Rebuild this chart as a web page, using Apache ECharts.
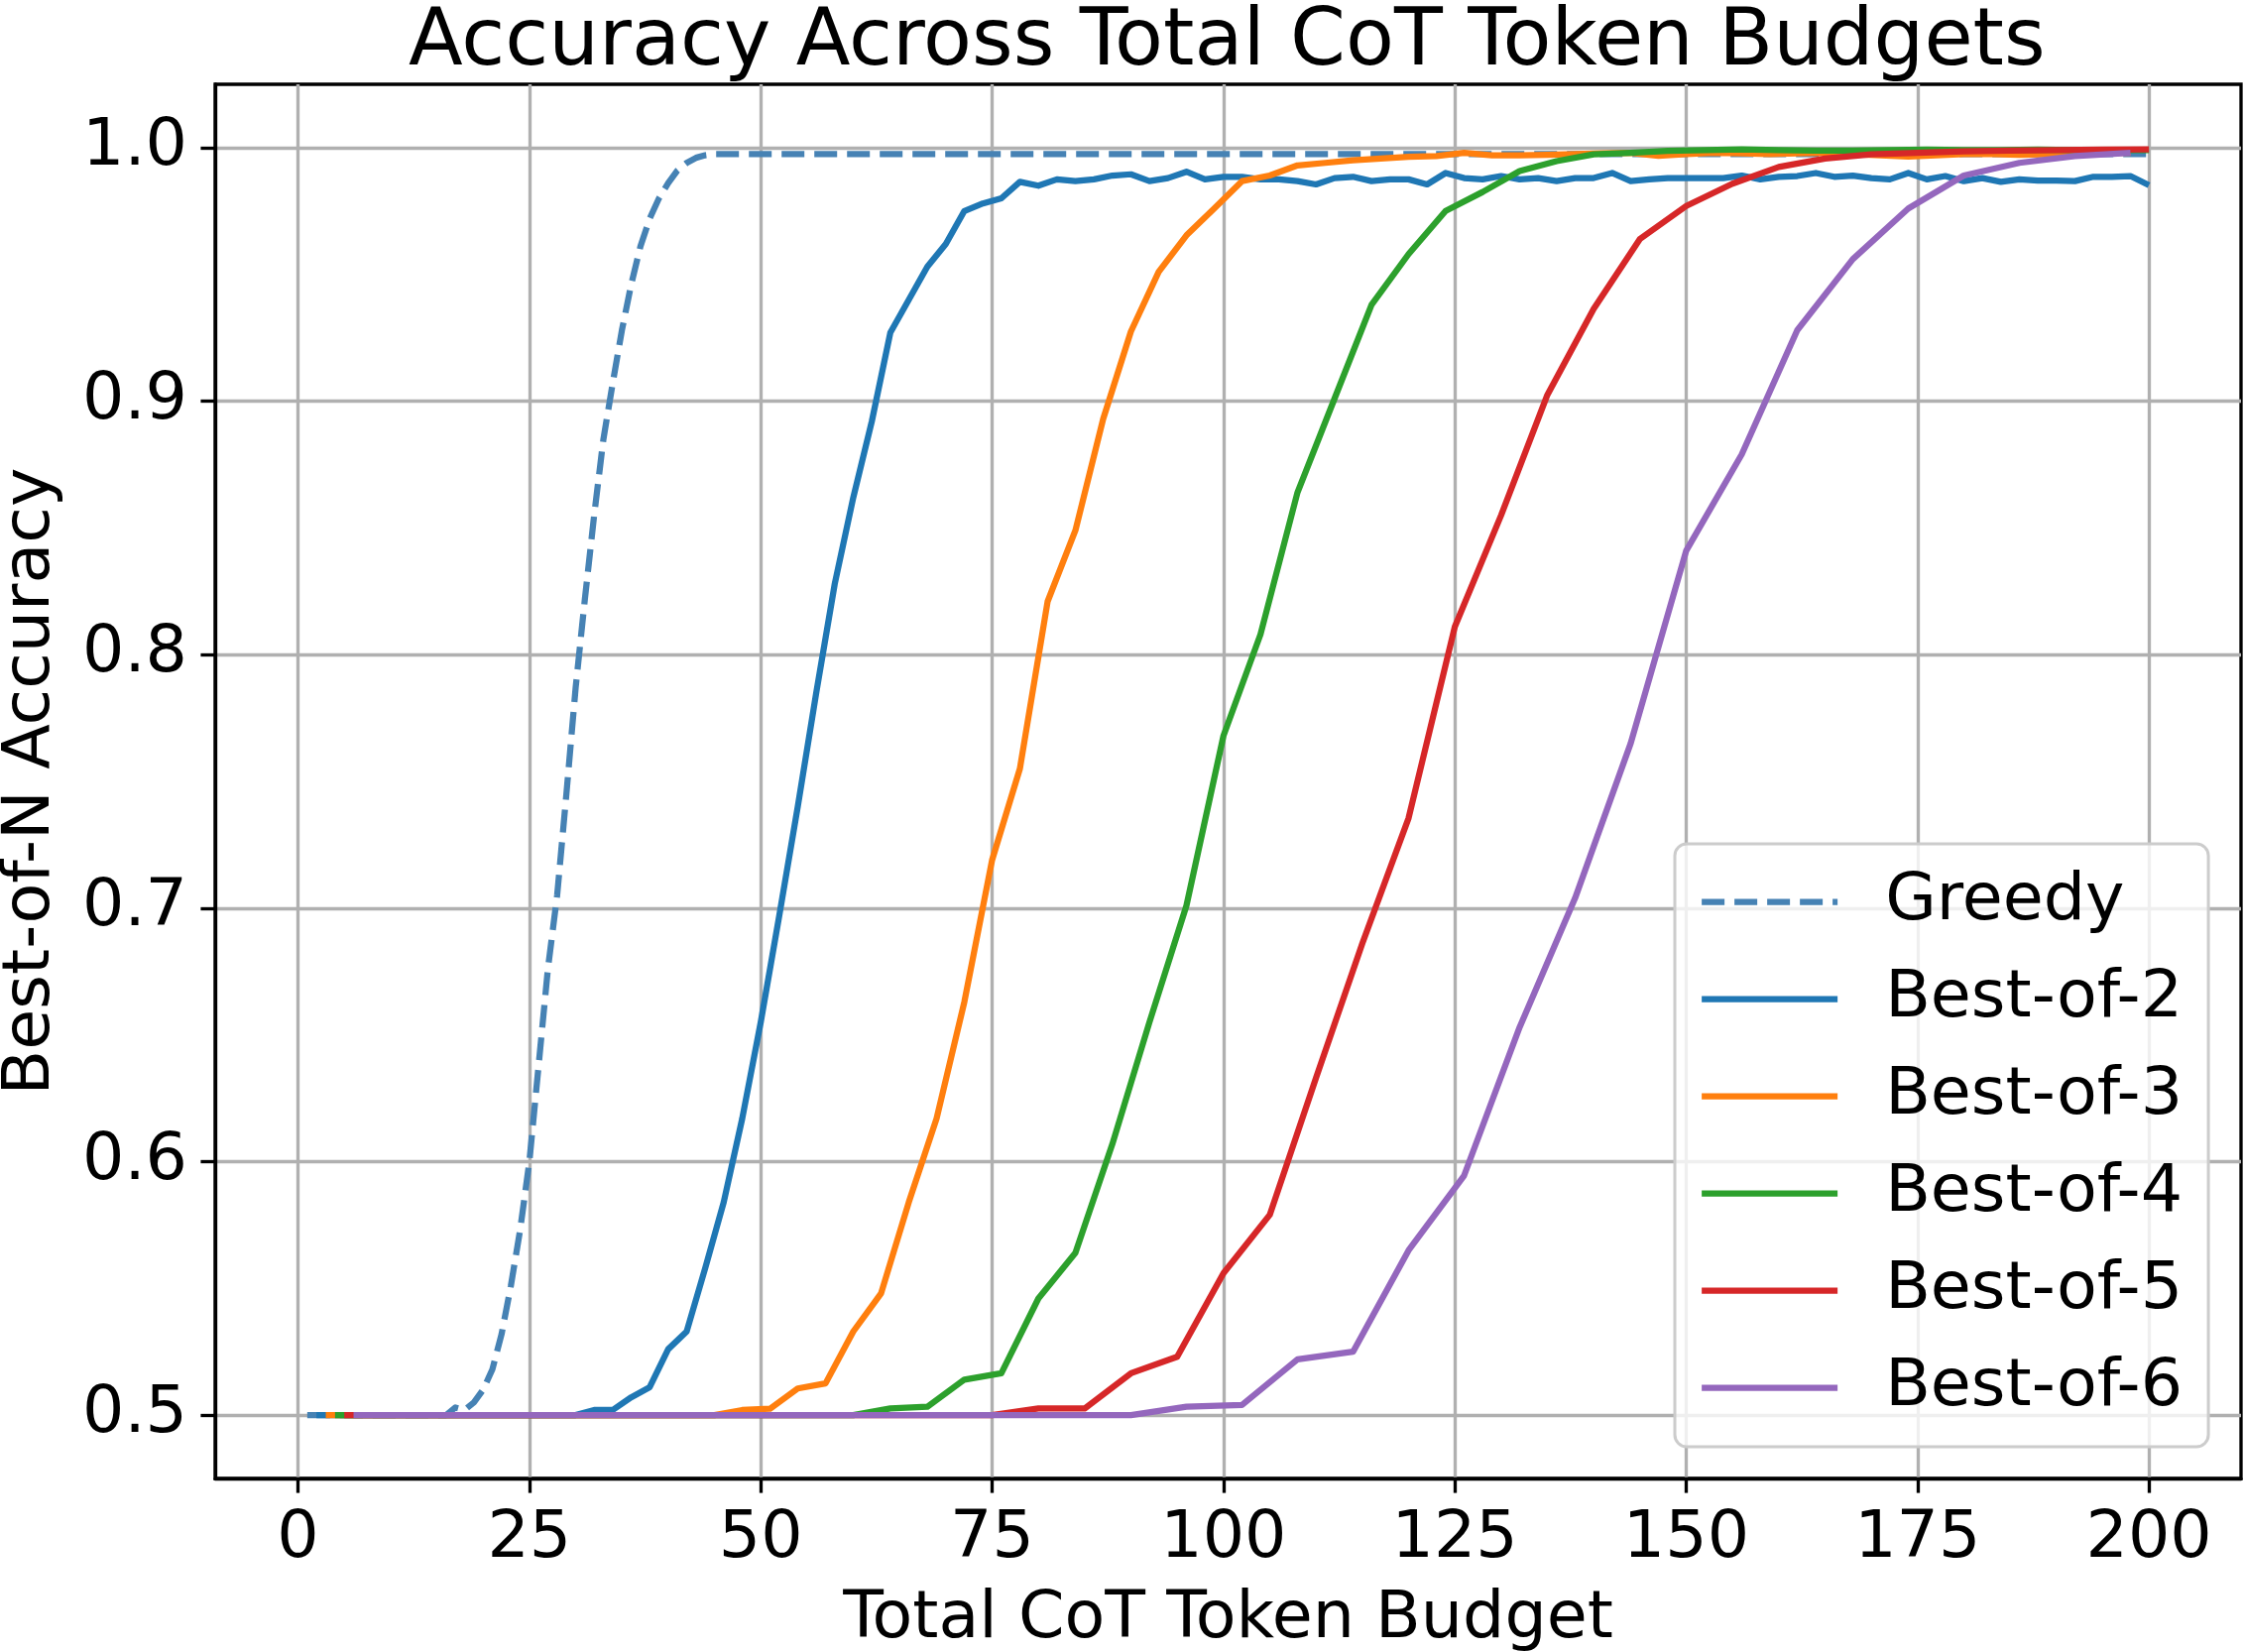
<!DOCTYPE html>
<html>
<head>
<meta charset="utf-8">
<script src="https://cdn.jsdelivr.net/npm/echarts@6/dist/echarts.min.js"></script>
<style>
html, body { margin: 0; padding: 0; background: #ffffff; }
#acc-div { width: 2263px; height: 1666px; }
</style>
</head>
<body>
<div id="acc-div"></div>
<script>

var seriesNames = ['Greedy', 'Best-of-2', 'Best-of-3', 'Best-of-4', 'Best-of-5', 'Best-of-6'];
var seriesColors = ['#4682b4', '#1f77b4', '#ff7f0e', '#2ca02c', '#d62728', '#9467bd'];
var xTicks = [0, 25, 50, 75, 100, 125, 150, 175, 200];
var yTicks = [0.5, 0.6, 0.7, 0.8, 0.9, 1.0];

// accuracy per total budget, greedy every token (1..200)
var greedyAcc = [
    0.5, 0.5, 0.5, 0.5, 0.5, 0.5, 0.5, 0.5, 0.5, 0.5, 0.5, 0.5, 0.5, 0.5, 0.5, 0.5, 0.503, 0.502, 0.505, 0.51,
    0.518, 0.532, 0.551, 0.573, 0.600, 0.638, 0.676, 0.705, 0.745, 0.787, 0.822, 0.855, 0.885, 0.907, 0.928, 0.946, 0.961, 0.972, 0.980, 0.986,
    0.991, 0.994, 0.996, 0.997, 0.9975, 0.9975, 0.9975, 0.9975, 0.9975, 0.9975, 0.9975, 0.9975, 0.9975, 0.9975, 0.9975, 0.9975, 0.9975, 0.9975, 0.9975, 0.9975,
    0.9975, 0.9975, 0.9975, 0.9975, 0.9975, 0.9975, 0.9975, 0.9975, 0.9975, 0.9975, 0.9975, 0.9975, 0.9975, 0.9975, 0.9975, 0.9975, 0.9975, 0.9975, 0.9975, 0.9975,
    0.9975, 0.9975, 0.9975, 0.9975, 0.9975, 0.9975, 0.9975, 0.9975, 0.9975, 0.9975, 0.9975, 0.9975, 0.9975, 0.9975, 0.9975, 0.9975, 0.9975, 0.9975, 0.9975, 0.9975,
    0.9975, 0.9975, 0.9975, 0.9975, 0.9975, 0.9975, 0.9975, 0.9975, 0.9975, 0.9975, 0.9975, 0.9975, 0.9975, 0.9975, 0.9975, 0.9975, 0.9975, 0.9975, 0.9975, 0.9975,
    0.9975, 0.9975, 0.9975, 0.9975, 0.9975, 0.9975, 0.9975, 0.9975, 0.9975, 0.9975, 0.9975, 0.9975, 0.9975, 0.9975, 0.9975, 0.9975, 0.9975, 0.9975, 0.9975, 0.9975,
    0.9975, 0.9975, 0.9975, 0.9975, 0.9975, 0.9975, 0.9975, 0.9975, 0.9975, 0.9975, 0.9975, 0.9975, 0.9975, 0.9975, 0.9975, 0.9975, 0.9975, 0.9975, 0.9975, 0.9975,
    0.9975, 0.9975, 0.9975, 0.9975, 0.9975, 0.9975, 0.9975, 0.9975, 0.9975, 0.9975, 0.9975, 0.9975, 0.9975, 0.9975, 0.9975, 0.9975, 0.9975, 0.9975, 0.9975, 0.9975,
    0.9975, 0.9975, 0.9975, 0.9975, 0.9975, 0.9975, 0.9975, 0.9975, 0.9975, 0.9975, 0.9975, 0.9975, 0.9975, 0.9975, 0.9975, 0.9975, 0.9975, 0.9975, 0.9975, 0.9975
];

// best-of-N: one point every N tokens (N, 2N, ...)
var bestOf2Acc = [
    0.5, 0.5, 0.5, 0.5, 0.5, 0.5, 0.5, 0.5, 0.5, 0.5, 0.5, 0.5, 0.5, 0.5, 0.5, 0.502, 0.502, 0.507, 0.511, 0.526,
    0.533, 0.558, 0.584, 0.617, 0.655, 0.697, 0.740, 0.785, 0.828, 0.862, 0.892, 0.927, 0.940, 0.953, 0.962, 0.975, 0.978, 0.980, 0.9865, 0.985,
    0.9875, 0.9868, 0.9875, 0.989, 0.9895, 0.9868, 0.988, 0.9905, 0.9875, 0.9885, 0.9885, 0.9875, 0.9875, 0.9868, 0.9855, 0.988, 0.9885, 0.9868, 0.9875, 0.9875,
    0.9855, 0.990, 0.988, 0.9875, 0.9888, 0.9875, 0.988, 0.9868, 0.988, 0.988, 0.990, 0.9868, 0.9875, 0.988, 0.988, 0.988, 0.988, 0.989, 0.9875, 0.9885,
    0.9888, 0.990, 0.9885, 0.989, 0.988, 0.9875, 0.990, 0.9875, 0.9888, 0.9868, 0.988, 0.9865, 0.9875, 0.987, 0.987, 0.9868, 0.9885, 0.9885, 0.9888, 0.9852
];

var bestOf3Acc = [
    0.5, 0.5, 0.5, 0.5, 0.5, 0.5, 0.5, 0.5, 0.5, 0.5, 0.5, 0.5, 0.5, 0.5, 0.5, 0.502, 0.5025, 0.5105, 0.5125, 0.533,
    0.548, 0.584, 0.617, 0.663, 0.719, 0.755, 0.821, 0.849, 0.893, 0.9275, 0.951, 0.9654, 0.976, 0.9868, 0.989, 0.993, 0.994, 0.995, 0.9957, 0.9964,
    0.9967, 0.998, 0.997, 0.997, 0.9972, 0.9975, 0.9978, 0.998, 0.9968, 0.9975, 0.998, 0.9978, 0.9975, 0.9978, 0.998, 0.9975, 0.997, 0.9965, 0.997, 0.9975,
    0.9975, 0.9972, 0.9975, 0.9978, 0.998, 0.998
];

var bestOf4Acc = [
    0.5, 0.5, 0.5, 0.5, 0.5, 0.5, 0.5, 0.5, 0.5, 0.5, 0.5, 0.5, 0.5, 0.5, 0.5, 0.5026, 0.5033, 0.514, 0.5165, 0.546,
    0.564, 0.607, 0.655, 0.701, 0.768, 0.808, 0.864, 0.901, 0.938, 0.958, 0.975, 0.9825, 0.9908, 0.9947, 0.9974, 0.998, 0.9987, 0.999, 0.9993, 0.999,
    0.9988, 0.9988, 0.999, 0.9992, 0.999, 0.999, 0.9992, 0.999, 0.999, 0.999
];

var bestOf5Acc = [
    0.5, 0.5, 0.5, 0.5, 0.5, 0.5, 0.5, 0.5, 0.5, 0.5, 0.5, 0.5, 0.5, 0.5, 0.5, 0.5026, 0.5026, 0.5165, 0.523, 0.556,
    0.579, 0.633, 0.686, 0.7355, 0.811, 0.855, 0.9025, 0.9364, 0.964, 0.977, 0.9858, 0.9924, 0.9957, 0.9974, 0.998, 0.9985, 0.9988, 0.999, 0.9992, 0.9993
];

var bestOf6Acc = [
    0.5, 0.5, 0.5, 0.5, 0.5, 0.5, 0.5, 0.5, 0.5, 0.5, 0.5, 0.5, 0.5, 0.5, 0.5, 0.5033, 0.504, 0.522, 0.525, 0.565,
    0.5945, 0.653, 0.704, 0.765, 0.841, 0.879, 0.928, 0.956, 0.976, 0.989, 0.994, 0.9967, 0.998
];

var seriesAcc = [greedyAcc, bestOf2Acc, bestOf3Acc, bestOf4Acc, bestOf5Acc, bestOf6Acc];
var seriesStep = [1, 2, 3, 4, 5, 6];

var fontName = 'DejaVu Sans';
var ptPx = 300 / 72;
var labelSize = 16 * ptPx;


// pair each accuracy with its total token budget
var toPoints = function(values, step) {
    var out = new Array(values.length);
    for (var i = 0; i < values.length; i++) {
        out[i] = [step * (i + 1), values[i]];
    }
    return out;
}


var dashFor = function(i) {
    return i === 0 ? [23, 10] : 'solid';
}


var makeSeries = function() {
    var list = [];
    for (var i = 0; i < seriesNames.length; i++) {
        list.push({
            name: seriesNames[i],
            type: 'line',
            data: toPoints(seriesAcc[i], seriesStep[i]),
            showSymbol: false,
            symbol: 'none',
            animation: false,
            color: seriesColors[i],
            lineStyle: {
                color: seriesColors[i],
                width: 1.5 * ptPx,
                type: dashFor(i),
                cap: 'butt',
                join: 'round'
            },
            z: 2 + i
        });
    }
    return list;
}


// legend entries: line only, no marker
var makeLegendData = function() {
    var list = [];
    for (var i = 0; i < seriesNames.length; i++) {
        list.push({
            name: seriesNames[i],
            itemStyle: { opacity: 0 },
            lineStyle: { color: seriesColors[i], width: 1.5 * ptPx, type: dashFor(i), opacity: 1 }
        });
    }
    return list;
}


var tickStyle = { length: 3.5 * ptPx, lineStyle: { color: '#000000', width: 0.8 * ptPx } };
var gridStyle = { color: '#b0b0b0', width: 0.8 * ptPx };

var opts = {
    animation: false,
    backgroundColor: '#ffffff',
    title: {
        text: 'Accuracy Across Total CoT Token Budgets',
        left: 412,
        top: 4,
        padding: 0,
        textStyle: { fontFamily: fontName, fontSize: 80, fontWeight: 'normal', color: '#000000' }
    },
    grid: {
        left: 217, right: 3, top: 85, bottom: 175,
        containLabel: false,
        outerBoundsMode: 'none',
        show: true,
        borderColor: '#000000',
        borderWidth: 0.8 * ptPx,
        backgroundColor: 'transparent'
    },
    legend: {
        data: makeLegendData(),
        orient: 'vertical',
        left: 1689,
        top: 851,
        padding: [25, 26, 26, 24],
        itemGap: 31,
        itemWidth: 137,
        itemHeight: 14,
        selectedMode: false,
        backgroundColor: 'rgba(255,255,255,0.8)',
        borderColor: '#cccccc',
        borderWidth: 3,
        borderRadius: 12,
        itemStyle: { opacity: 0 },
        lineStyle: { width: 1.5 * ptPx },
        textStyle: { fontFamily: fontName, fontSize: labelSize, color: '#000000', padding: [0, 0, 0, 43] }
    },
    xAxis: {
        type: 'value',
        min: -8.95,
        max: 209.95,
        name: 'Total CoT Token Budget',
        nameLocation: 'middle',
        nameGap: 109,
        nameTextStyle: { fontFamily: fontName, fontSize: labelSize, color: '#000000' },
        axisLine: { show: true, onZero: false, lineStyle: { color: '#000000', width: 0.8 * ptPx } },
        axisTick: Object.assign({ show: true, inside: false, customValues: xTicks }, tickStyle),
        axisLabel: {
            customValues: xTicks,
            margin: 28,
            fontFamily: fontName, fontSize: labelSize, color: '#000000'
        },
        splitLine: { show: true, customValues: xTicks, lineStyle: gridStyle }
    },
    yAxis: {
        type: 'value',
        min: 0.475,
        max: 1.025,
        name: 'Best-of-N Accuracy',
        nameLocation: 'middle',
        nameRotate: 90,
        nameGap: 152,
        nameTextStyle: { fontFamily: fontName, fontSize: labelSize, color: '#000000' },
        axisLine: { show: true, onZero: false, lineStyle: { color: '#000000', width: 0.8 * ptPx } },
        axisTick: Object.assign({ show: true, inside: false, customValues: yTicks }, tickStyle),
        axisLabel: {
            customValues: yTicks,
            margin: 28,
            fontFamily: fontName, fontSize: labelSize, color: '#000000',
            formatter: function(v) { return Number(v).toFixed(1); }
        },
        splitLine: { show: true, customValues: yTicks, lineStyle: gridStyle }
    },
    series: makeSeries()
};

var myChartObj = echarts.init(document.getElementById('acc-div'), null, { renderer: 'canvas' });
myChartObj.setOption(opts);

</script>
</body>
</html>
